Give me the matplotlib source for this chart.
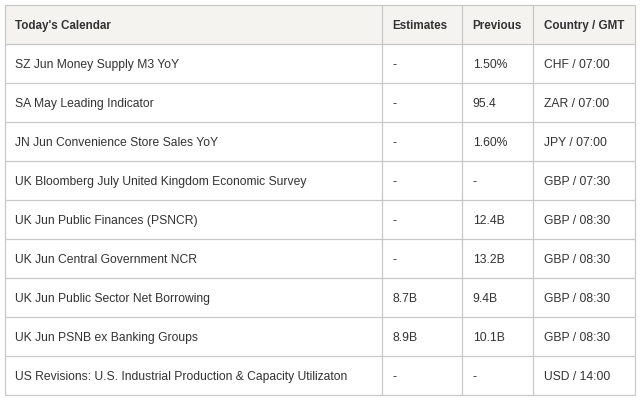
import matplotlib
matplotlib.use("Agg")
import matplotlib.pyplot as plt
from matplotlib.patches import Rectangle

headers = ["Today's Calendar", "Estimates", "Previous", "Country / GMT"]
events = [
    "SZ Jun Money Supply M3 YoY",
    "SA May Leading Indicator",
    "JN Jun Convenience Store Sales YoY",
    "UK Bloomberg July United Kingdom Economic Survey",
    "UK Jun Public Finances (PSNCR)",
    "UK Jun Central Government NCR",
    "UK Jun Public Sector Net Borrowing",
    "UK Jun PSNB ex Banking Groups",
    "US Revisions: U.S. Industrial Production & Capacity Utilizaton",
]
estimates = ["-", "-", "-", "-", "-", "-", "8.7B", "8.9B", "-"]
previous = ["1.50%", "95.4", "1.60%", "-", "12.4B", "13.2B", "9.4B", "10.1B", "-"]
country_gmt = ["CHF / 07:00", "ZAR / 07:00", "JPY / 07:00", "GBP / 07:30", "GBP / 08:30",
               "GBP / 08:30", "GBP / 08:30", "GBP / 08:30", "USD / 14:00"]

W, H = 640, 403
fig = plt.figure(figsize=(W / 100, H / 100), dpi=100)
ax = fig.add_axes([0, 0, 1, 1])
ax.set_xlim(0, W)
ax.set_ylim(H, 0)
ax.axis("off")

left, right, top = 4.5, 635, 5.3
header_bottom = 44.3
row_h = 39.0
col_x = [left, 381.7, 461.7, 533.3, right]
text_x = [15, 392.7, 472.7, 544]
n = len(events)
bottom = header_bottom + n * row_h

line_c = "#c8c8c8"
text_c = "#333333"
font = ["Liberation Sans", "DejaVu Sans"]
fs = 8.7
fs_head = 8.4

ax.add_patch(Rectangle((left, top), right - left, header_bottom - top, facecolor="#f4f3f0",
                       edgecolor="none", zorder=0))

ys = [top, header_bottom] + [header_bottom + (i + 1) * row_h for i in range(n)]
for y in ys:
    ax.plot([left, right], [y, y], color=line_c, lw=0.9, solid_capstyle="butt", zorder=2)
for x in col_x:
    ax.plot([x, x], [top, bottom], color=line_c, lw=0.9, solid_capstyle="butt", zorder=2)

hy = (top + header_bottom) / 2
for tx, h in zip(text_x, headers):
    ax.text(tx, hy, h, ha="left", va="center_baseline", fontsize=fs_head, fontweight="bold",
            color=text_c, family=font)

for i in range(n):
    cy = header_bottom + (i + 0.5) * row_h
    for tx, val in zip(text_x, [events[i], estimates[i], previous[i], country_gmt[i]]):
        ax.text(tx, cy, val, ha="left", va="center_baseline", fontsize=fs, color=text_c,
                family=font)

fig.savefig("out.png", dpi=100, facecolor="white")
